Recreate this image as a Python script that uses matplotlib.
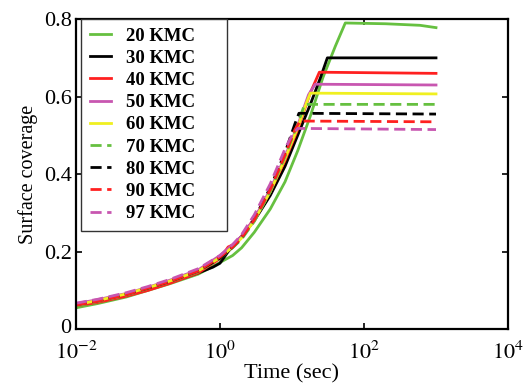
import matplotlib
matplotlib.use("Agg")
import matplotlib.pyplot as plt
from matplotlib.transforms import ScaledTranslation

plt.rcParams["font.family"] = ["Liberation Serif", "DejaVu Serif"]
plt.rcParams["mathtext.fontset"] = "stix"

# --- data (time in sec, surface coverage) ---
labels = ["20 KMC", "30 KMC", "40 KMC", "50 KMC", "60 KMC",
          "70 KMC", "80 KMC", "90 KMC", "97 KMC"]

t20 = [0.01, 0.02, 0.05, 0.1, 0.2, 0.5, 1.0, 1.5, 2, 3, 5, 8, 12, 18, 27, 40, 55, 200, 600, 1000]
c20 = [0.055, 0.066, 0.083, 0.10, 0.117, 0.142, 0.172, 0.19, 0.21, 0.25, 0.31, 0.38, 0.46, 0.55,
       0.65, 0.73, 0.79, 0.788, 0.784, 0.778]

t30 = [0.01, 0.02, 0.05, 0.1, 0.2, 0.5, 0.8, 1.0, 1.3, 2, 3, 5, 8, 12, 18, 25, 31, 1000]
c30 = [0.062, 0.071, 0.088, 0.104, 0.12, 0.145, 0.16, 0.17, 0.2, 0.24, 0.28, 0.345, 0.42, 0.50,
       0.58, 0.65, 0.70, 0.70]

t40 = [0.01, 0.02, 0.05, 0.1, 0.2, 0.5, 1, 1.3, 1.7, 2, 3, 5, 8, 12, 18, 24, 1000]
c40 = [0.06, 0.069, 0.085, 0.10, 0.118, 0.145, 0.182, 0.212, 0.222, 0.24, 0.285, 0.355, 0.435,
       0.515, 0.61, 0.663, 0.66]

t50 = [0.01, 0.02, 0.05, 0.1, 0.2, 0.5, 1, 1.5, 2, 3, 5, 8, 12, 17, 21, 1000]
c50 = [0.066, 0.076, 0.092, 0.108, 0.126, 0.153, 0.19, 0.218, 0.24, 0.285, 0.36, 0.445, 0.525,
       0.605, 0.632, 0.63]

t60 = [0.01, 0.02, 0.05, 0.1, 0.2, 0.5, 1, 1.5, 2, 3, 5, 8, 12, 16, 18, 1000]
c60 = [0.063, 0.074, 0.091, 0.107, 0.124, 0.15, 0.185, 0.212, 0.235, 0.28, 0.355, 0.44, 0.52,
       0.585, 0.609, 0.607]

t70 = [0.01, 0.02, 0.05, 0.1, 0.2, 0.5, 1, 1.5, 2, 3, 5, 8, 12, 15, 1000]
c70 = [0.06, 0.071, 0.088, 0.105, 0.122, 0.148, 0.183, 0.21, 0.232, 0.278, 0.355, 0.445, 0.53,
       0.58, 0.58]

t80 = [0.01, 0.02, 0.05, 0.1, 0.2, 0.5, 1, 1.5, 2, 3, 5, 8, 11, 12.5, 1000]
c80 = [0.063, 0.073, 0.09, 0.106, 0.123, 0.15, 0.183, 0.212, 0.236, 0.285, 0.365, 0.455, 0.53,
       0.557, 0.555]

t90 = [0.01, 0.02, 0.05, 0.1, 0.2, 0.5, 1, 1.5, 2, 3, 5, 8, 11, 13, 1000]
c90 = [0.062, 0.072, 0.089, 0.106, 0.123, 0.15, 0.186, 0.212, 0.236, 0.282, 0.36, 0.45, 0.515,
       0.537, 0.535]

t97 = [0.01, 0.02, 0.05, 0.1, 0.2, 0.5, 1, 1.5, 2, 3, 5, 8, 10, 12, 1000]
c97 = [0.067, 0.077, 0.094, 0.11, 0.128, 0.156, 0.19, 0.218, 0.244, 0.295, 0.375, 0.465, 0.5,
       0.518, 0.515]

times = [t20, t30, t40, t50, t60, t70, t80, t90, t97]
covers = [c20, c30, c40, c50, c60, c70, c80, c90, c97]

colors = ["#66c040", "#000000", "#ff2020", "#c856b0", "#f0f020",
          "#66c040", "#000000", "#ff2020", "#c856b0"]
dashed = [False] * 5 + [True] * 4

fig = plt.figure(figsize=(5.27, 3.9), dpi=100)
ax = fig.add_axes([0.144, 0.156, 0.820, 0.795])

for t, c, col, lab, d in zip(times, covers, colors, labels, dashed):
    if d:
        ax.plot(t, c, color=col, lw=2.0, linestyle=(0, (4, 2)), label=lab)
    else:
        ax.plot(t, c, color=col, lw=2.0, label=lab)

ax.set_xscale("log")
ax.set_xlim(1e-2, 1e4)
ax.set_ylim(0, 0.8)
ax.set_xticks([1e-2, 1e0, 1e2, 1e4])
ax.set_xticklabels([r"$10^{-2}$", r"$10^{0}$", r"$10^{2}$", r"$10^{4}$"])
ax.minorticks_off()
ax.set_yticks([0, 0.2, 0.4, 0.6, 0.8])
ax.set_yticklabels(["0", "0.2", "0.4", "0.6", "0.8"])
ax.tick_params(direction="in", top=True, right=True, length=4, width=1.2,
               labelsize=16)
ax.tick_params(axis="x", pad=9)
ax.tick_params(axis="y", pad=3)
for s in ax.spines.values():
    s.set_linewidth(1.6)

# lift the "0" label a little so it clears the 10^-2 label below it
zero_lbl = ax.get_yticklabels()[0]
zero_lbl.set_transform(zero_lbl.get_transform() +
                       ScaledTranslation(0, 3 / 100, fig.dpi_scale_trans))

ax.set_xlabel("Time (sec)", fontsize=16, labelpad=0)
ax.set_ylabel("Surface coverage", fontsize=14.5, labelpad=4)

leg = ax.legend(loc="upper left", bbox_to_anchor=(0.012, 0.0, 0.338, 1.0),
                mode="expand", borderaxespad=0, fancybox=False,
                edgecolor="#333333", framealpha=1, handlelength=1.17,
                handletextpad=0.75, labelspacing=0.27, borderpad=0.45,
                prop={"weight": "bold", "size": 13.5})
leg.get_frame().set_linewidth(1.0)

fig.savefig("out.png", dpi=100)
